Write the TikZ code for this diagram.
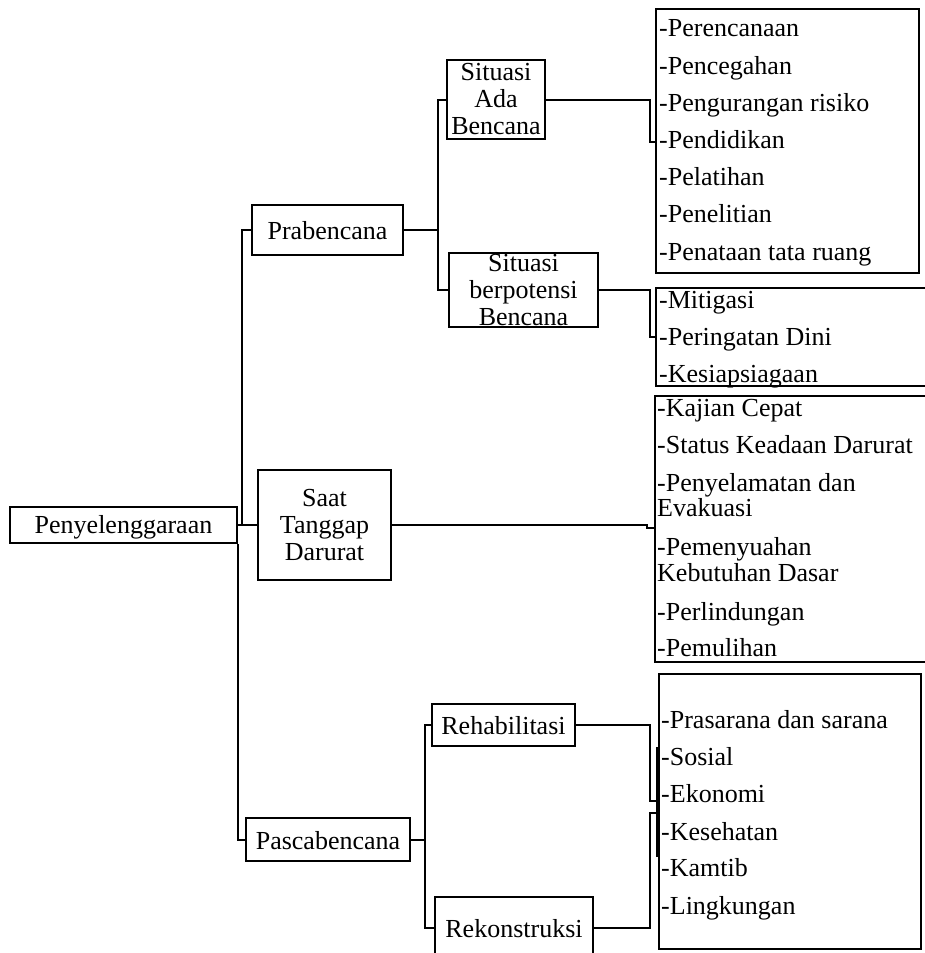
\documentclass[tikz,border=0pt]{standalone}
\usepackage{fontspec}
\setmainfont{Liberation Serif}
\usetikzlibrary{calc}
\begin{document}
\begin{tikzpicture}[x=1pt,y=-1pt,
  frame/.style={draw=black, line width=2.2pt, inner sep=0pt},
  lbl/.style={inner sep=0pt, align=center, font=\fontsize{26}{27}\selectfont},
  itm/.style={inner sep=0pt, anchor=base west, font=\fontsize{26}{27}\selectfont},
  conn/.style={draw=black, line width=2pt},
  ]
\useasboundingbox (0,0) rectangle (925,953);
\clip (0,0) rectangle (925,953);

% boxes
\node[frame, minimum width=227pt, minimum height=36pt] (pen) at (123.5,525) {};
\node[lbl] (penT) at ([yshift=-2pt]pen.center) {Penyelenggaraan};
\node[frame, minimum width=151pt, minimum height=50pt] (pra) at (327.5,230) {};
\node[lbl] (praT) at ([yshift=-1pt]pra.center) {Prabencana};
\node[frame, minimum width=133pt, minimum height=110pt] (saat) at (324.5,525) {};
\node[lbl] (saatT) at (saat.center) {Saat\\Tanggap\\Darurat};
\node[frame, minimum width=164pt, minimum height=43pt] (pasca) at (328,839.5) {};
\node[lbl] (pascaT) at ([yshift=-1pt]pasca.center) {Pascabencana};
\node[frame, minimum width=98pt, minimum height=79pt] (sab) at (496,99.5) {};
\node[lbl] (sabT) at (sab.center) {Situasi\\Ada\\Bencana};
\node[frame, minimum width=149pt, minimum height=74pt] (sbp) at (523.5,290) {};
\node[lbl] (sbpT) at (sbp.center) {Situasi\\berpotensi\\Bencana};
\node[frame, minimum width=143pt, minimum height=42pt] (rehab) at (503.5,725) {};
\node[lbl] (rehabT) at ([yshift=-1pt]rehab.center) {Rehabilitasi};
\node[frame, minimum width=158pt, minimum height=62pt] (rekon) at (514,928) {};
\node[lbl] (rekonT) at ([yshift=-1pt]rekon.center) {Rekonstruksi};

\node[frame, minimum width=263pt, minimum height=264pt] (list1) at (787.5,141) {};
\node[frame, minimum width=279pt, minimum height=98pt] (list2) at (795.5,337) {};
\node[frame, minimum width=280pt, minimum height=266pt] (list3) at (795,529) {};
\node[frame, minimum width=262pt, minimum height=275pt] (list4) at (790,811.5) {};

% list items
\node[itm] (a1) at (659,36) {-Perencanaan};
\node[itm] (a2) at (659,74) {-Pencegahan};
\node[itm] (a3) at (659,111) {-Pengurangan risiko};
\node[itm] (a4) at (659,148) {-Pendidikan};
\node[itm] (a5) at (659,185) {-Pelatihan};
\node[itm] (a6) at (659,222) {-Penelitian};
\node[itm] (a7) at (659,260) {-Penataan tata ruang};

\node[itm] (b1) at (659,308) {-Mitigasi};
\node[itm] (b2) at (659,345) {-Peringatan Dini};
\node[itm] (b3) at (659,382) {-Kesiapsiagaan};

\node[itm] (c1) at (657,416) {-Kajian Cepat};
\node[itm] (c2) at (657,453) {-Status Keadaan Darurat};
\node[itm] (c3) at (657,491) {-Penyelamatan dan};
\node[itm] (c3b) at (657,516) {Evakuasi};
\node[itm] (c4) at (657,555) {-Pemenyuahan};
\node[itm] (c4b) at (657,581) {Kebutuhan Dasar};
\node[itm] (c5) at (657,620) {-Perlindungan};
\node[itm] (c6) at (657,656) {-Pemulihan};

\node[itm] (d1) at (661,728) {-Prasarana dan sarana};
\node[itm] (d2) at (661,765) {-Sosial};
\node[itm] (d3) at (661,802) {-Ekonomi};
\node[itm] (d4) at (661,840) {-Kesehatan};
\node[itm] (d5) at (661,876) {-Kamtib};
\node[itm] (d6) at (661,914) {-Lingkungan};

% connectors
\coordinate (t1) at (242,525);
\draw[conn] (pen.east) -- (saat.west);
\draw[conn] (t1) |- (pra.west);
\draw[conn] (pen.south east) |- (pasca.west);

\coordinate (j1) at (438,230);
\draw[conn] (pra.east) -- (j1);
\draw[conn] (j1) |- (sab.west);
\draw[conn] (j1) |- (sbp.west);

\coordinate (k1) at (650,142);
\draw[conn] (sab.east) -| (k1) -- (k1 -| list1.west);
\coordinate (k2) at (650,337);
\draw[conn] (sbp.east) -| (k2) -- (k2 -| list2.west);
\coordinate (k3) at (647,528);
\draw[conn] (saat.east) -| (k3) -- (k3 -| list3.west);

\coordinate (j2) at (425,839.5);
\draw[conn] (pasca.east) -- (j2);
\draw[conn] (j2) |- (rehab.west);
\draw[conn] (j2) |- (rekon.west);

\coordinate (k4) at (650,801);
\draw[conn] (rehab.east) -| (k4) -- (k4 -| list4.west);
\coordinate (k5) at (650,813);
\draw[conn] (rekon.east) -| (k5) -- (k5 -| list4.west);
\coordinate (s1) at (657,747);
\coordinate (s2) at (657,857);
\draw[line width=2.6pt] (s1) -- (s2);
\end{tikzpicture}
\end{document}
